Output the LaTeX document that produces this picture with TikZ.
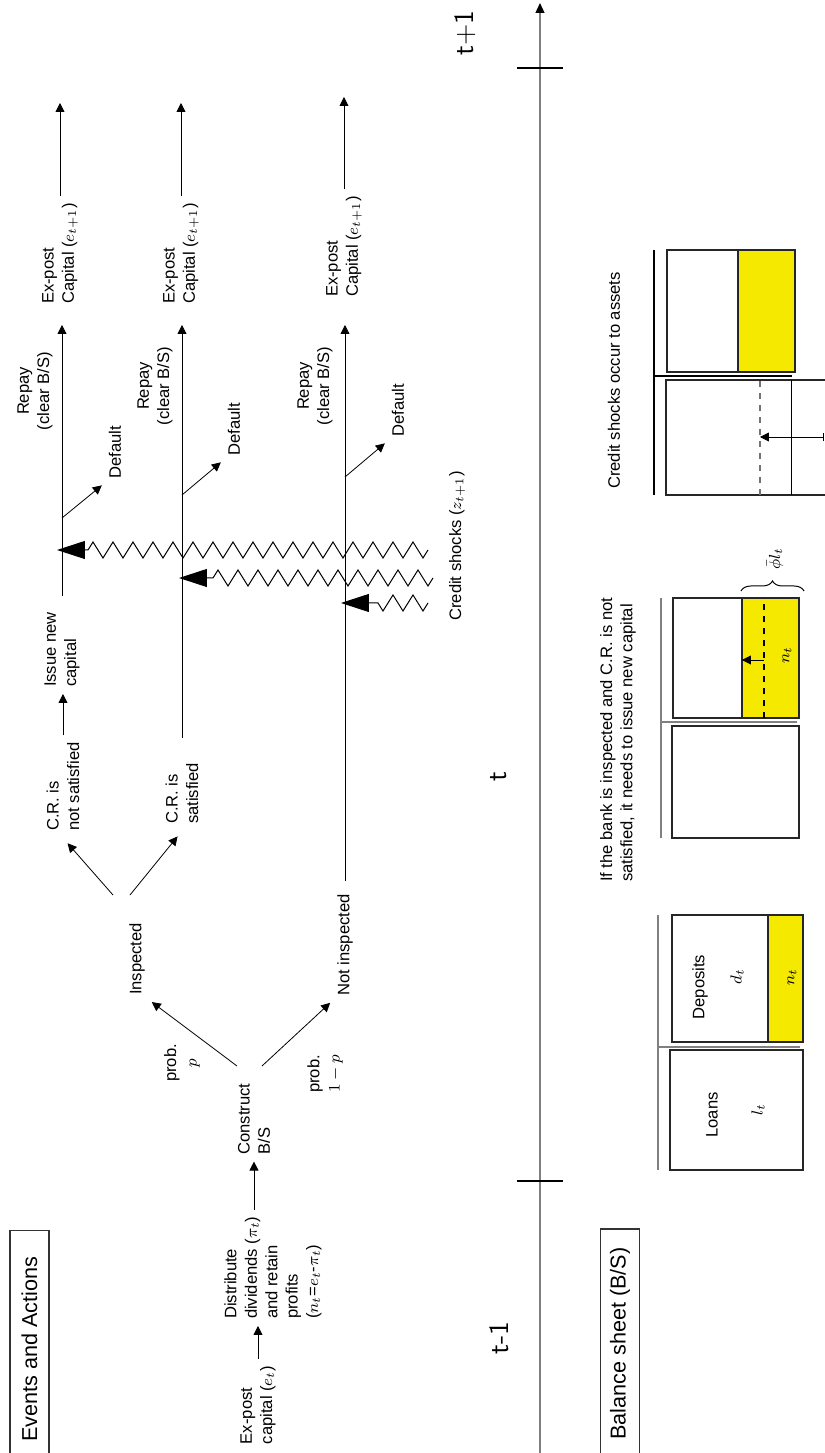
\documentclass[tikz,border=0pt]{standalone}
\usepackage{fontspec}
\setmainfont{Liberation Sans}
\usepackage{amsmath}
\usetikzlibrary{arrows.meta,decorations.pathmorphing,decorations.pathreplacing}
\definecolor{eqyellow}{RGB}{245,233,0}
\tikzset{
  arr/.style = {-{Triangle[length=4.5pt,width=4.5pt]}, line width=0.4pt},
  shock/.style = {decorate, decoration={zigzag, segment length=10pt, amplitude=4pt, post=lineto, post length=14pt},
    -{Triangle[length=14pt,width=9pt]}, line width=0.5pt},
  titlebox/.style = {draw=black!80, line width=0.6pt, font=\fontsize{10.8}{13}\selectfont, minimum height=19.5pt},
  timelbl/.style = {font=\fontsize{14}{16}\sffamily\selectfont},
  bsbox/.style = {draw=black!85, line width=0.8pt},
  equity/.style = {bsbox, fill=eqyellow},
  tline/.style = {draw=black!50, line width=1pt}
}

\begin{document}
\begin{tikzpicture}[x=0.5pt, y=0.5pt, rotate=90, transform shape, font=\fontsize{8.3}{10.2}\selectfont]

  \useasboundingbox (0,0) rectangle (1453,825);

  \node[titlebox, minimum width=119pt] (evt) at (103.5,795.5) {Events and Actions};
  \node[titlebox, minimum width=114.5pt] (bs) at (109.5,205) {Balance sheet (B/S)};

  \coordinate (tA) at (0,285);
  \coordinate (tB) at (1450,285);
  \draw[draw=black!50, line width=0.6pt, -{Triangle[length=5pt,width=4.5pt,color=black]}] (tA) -- (tB);
  \draw[line width=1.2pt] (272,262) -- (272,308);
  \draw[line width=1.2pt] (1385,262) -- (1385,308);
  \node[timelbl] (tprev) at (115,326) {t-1};
  \node[timelbl] (tnow) at (676,326) {t};
  \node[timelbl] (tnext) at (1420,360) {t+1};

  \node (expost) at (48,567) [align=left] {Ex-post\\capital ($e_t$)};
  \node (distr) at (127,552) [align=left, anchor=west] {Distribute\\dividends ($\pi_t$)\\and retain\\profits\\($n_t$=$e_t$-$\pi_t$)};
  \node (cons) at (334,571) [align=left] {Construct\\B/S};
  \node (probp) at (390,643) [align=center] {prob.\\$p$};
  \node (probq) at (379,500) [align=center] {prob.\\$1-p$};
  \node (insp) at (494,688) {Inspected};
  \node (notinsp) at (508,480) {Not inspected};
  \node (crno) at (615,762) [align=left, anchor=west] {C.R. is\\not satisfied};
  \node (cryes) at (622,643) [align=left, anchor=west] {C.R. is\\satisfied};
  \node (issue) at (759,763) [align=left, anchor=west] {Issue new\\capital};

  \node (repA) at (1062,790) [align=center] {Repay\\(clear B/S)};
  \node (repB) at (1067,670) [align=center] {Repay\\(clear B/S)};
  \node (repC) at (1067,510) [align=center] {Repay\\(clear B/S)};
  \node (dfltA) at (1001,710) {Default};
  \node (dfltB) at (1024,591) {Default};
  \node (dfltC) at (1043,427) {Default};
  \node (postA) at (1142,765) [align=left, anchor=west] {Ex-post\\Capital ($e_{t+1}$)};
  \node (postB) at (1142,644) [align=left, anchor=west] {Ex-post\\Capital ($e_{t+1}$)};
  \node (postC) at (1149,481) [align=left, anchor=west] {Ex-post\\Capital ($e_{t+1}$)};
  \coordinate (endA) at (1350,765);
  \coordinate (endB) at (1350,644);
  \coordinate (endC) at (1356,481);

  \draw[arr] (expost.east) -- (expost.east -| distr.west);
  \draw[arr] (distr.east |- cons.west) -- (cons.west);
  \coordinate (cA) at (387,588);
  \coordinate (cB) at (387,563);
  \draw[arr] (cA) -- (insp.south west);
  \draw[arr] (cB) -- (notinsp.north west);
  \coordinate (iA) at (558,712);
  \coordinate (iB) at (558,695);
  \draw[arr, shorten >=3.5pt] (iA) -- (crno.west);
  \draw[arr, shorten >=3.5pt] (iB) -- (cryes.west);
  \draw[arr] (crno.east) -- (crno.east -| issue.west);

  \draw[arr, shorten <=4.5pt, shorten >=7pt] (issue.east) -- (issue.east -| postA.west);
  \draw[arr, shorten <=9pt, shorten >=7pt] (cryes.east) -- (cryes.east -| postB.west);
  \draw[arr, shorten <=3pt, shorten >=10.5pt] (notinsp.east) -- (notinsp.east -| postC.west);
  \draw[arr] (postA.east) -- (endA);
  \draw[arr] (postB.east) -- (endB);
  \draw[arr] (postC.east) -- (endC);

  \coordinate (dA) at (935,763);
  \coordinate (dB) at (958,643);
  \coordinate (dC) at (976,480);
  \draw[arr] (dA) -- (dfltA.north west);
  \draw[arr] (dB) -- (dfltB.north west);
  \draw[arr] (dC) -- (dfltC.north west);

  \coordinate (sA) at (903,397);
  \coordinate (hA) at (903,768);
  \coordinate (sB) at (875,392);
  \coordinate (hB) at (875,646);
  \coordinate (sC) at (850,397);
  \coordinate (hC) at (850,484);
  \draw[shock] (sA) -- (hA);
  \draw[shock] (sB) -- (hB);
  \draw[shock] (sC) -- (hC);
  \node (shocklbl) at (907,368) {Credit shocks ($z_{t+1}$)};

  \draw[tline] (283,167) -- (538,167);
  \draw[tline] (406,167) -- (406,25);
  \draw[bsbox] (283,22) rectangle (403,155);
  \draw[equity] (411,22) rectangle (538,57);
  \draw[bsbox] (411,57) rectangle (538,153);
  \node (loans) at (338,113) {Loans};
  \node (lt) at (343,67) {$l_t$};
  \node (deps) at (466,125) {Deposits};
  \node (dt) at (476,88) {$d_t$};
  \node (nt) at (476,33) {$n_t$};

  \node (inspnote) at (564,207) [align=left, anchor=west] {If the bank is inspected and C.R. is not\\satisfied, it needs to issue new capital};
  \draw[tline] (615,164) -- (855,164);
  \draw[tline] (731,164) -- (731,28);
  \draw[bsbox] (615,26) rectangle (727,153);
  \draw[equity] (735,26) rectangle (855,83);
  \draw[bsbox] (735,83) rectangle (855,152);
  \draw[dashed, line width=0.6pt] (735,61) -- (855,61);
  \coordinate (upA) at (793,61);
  \coordinate (upB) at (793,83);
  \draw[arr] (upA) -- (upB);
  \node (nt2) at (798,38) {$n_t$};
  \draw[decorate, decoration={brace, amplitude=5pt}, line width=0.5pt] (862,84) -- (862,21);
  \node (phil) at (894,50) {$\bar{\phi} l_t$};

  \node (shocknote) at (957,211) [anchor=west] {Credit shocks occur to assets};
  \draw[line width=0.6pt] (958,171) -- (1203,171);
  \draw[line width=0.6pt] (1077,171) -- (1077,33);
  \draw[bsbox] (958,-5) rectangle (1073,159);
  \draw[draw=black!55, dashed, line width=0.6pt] (958,65) -- (1073,65);
  \draw[line width=0.5pt] (958,33) -- (1073,33);
  \draw[equity] (1081,30) rectangle (1203,87);
  \draw[bsbox] (1081,87) rectangle (1203,158);
  \coordinate (lossA) at (1016,1);
  \coordinate (lossB) at (1016,65);
  \draw[{Bar[width=4pt]}-{Triangle[length=4.5pt,width=4.5pt]}, line width=0.4pt] (lossA) -- (lossB);

\end{tikzpicture}
\end{document}
